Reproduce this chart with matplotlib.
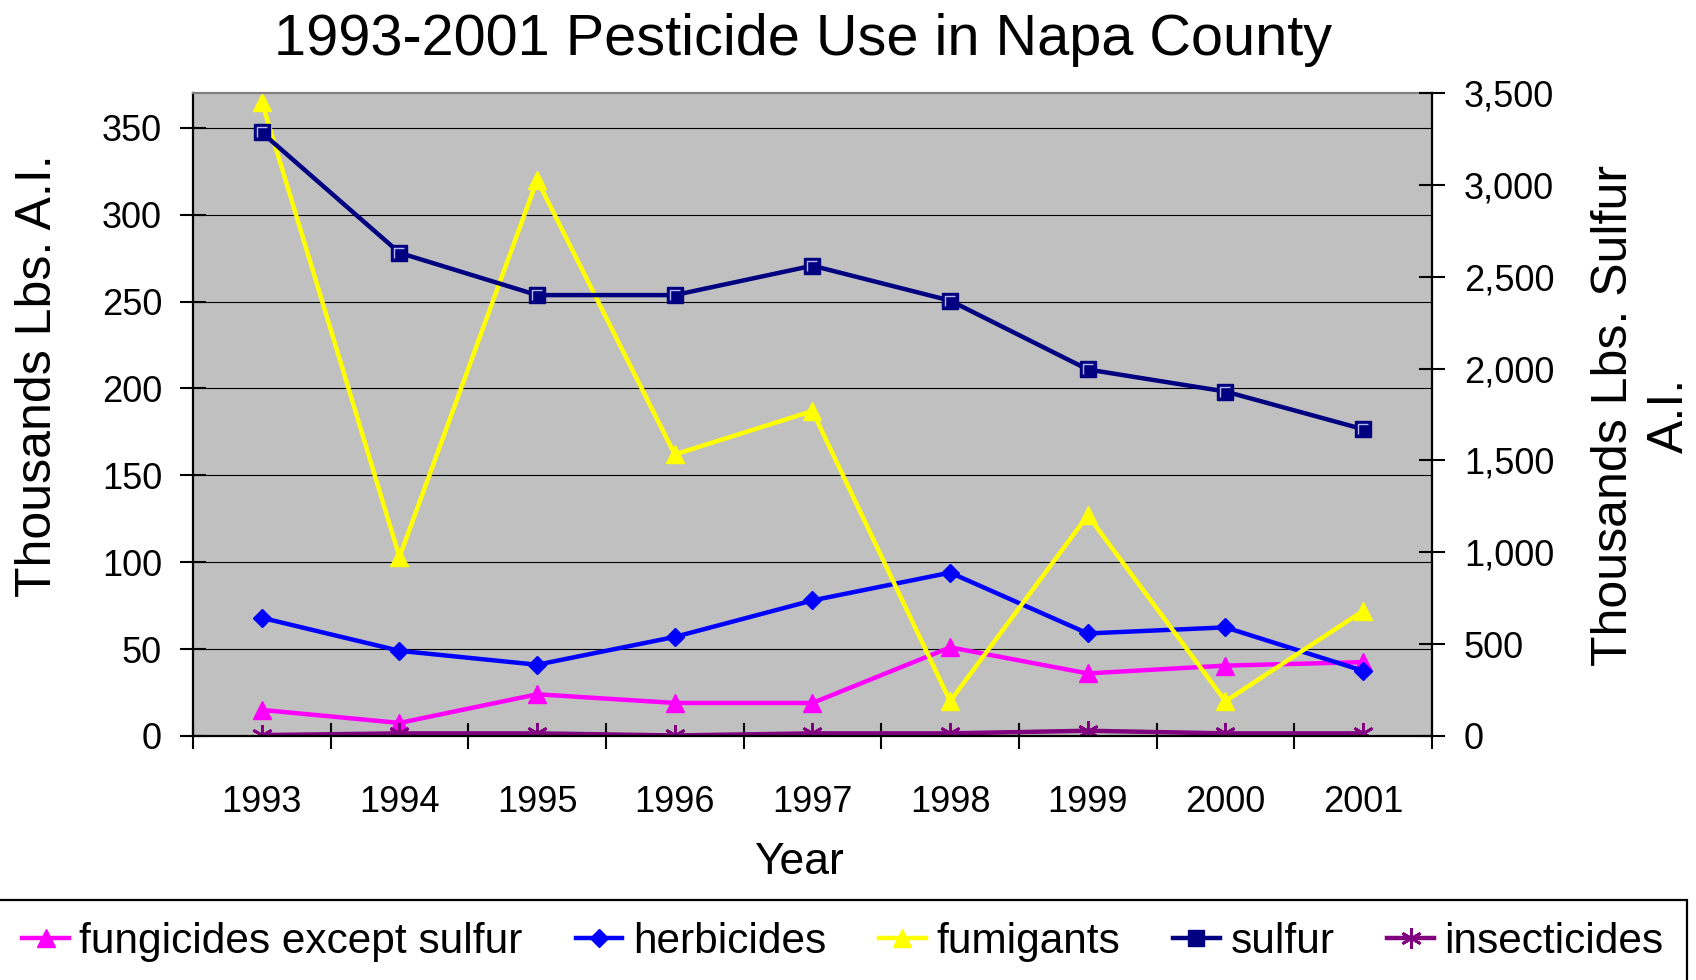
import matplotlib
matplotlib.use('Agg')
import matplotlib.pyplot as plt
import numpy as np
from matplotlib.patches import Rectangle
from matplotlib.path import Path
from matplotlib.ticker import StrMethodFormatter, MultipleLocator

plt.rcParams['font.family'] = ['Liberation Sans', 'DejaVu Sans']

# datos (miles de libras de ingrediente activo)
years = ['1993', '1994', '1995', '1996', '1997', '1998', '1999', '2000', '2001']
fungicides = [15, 7.5, 24, 19, 19, 51, 36, 40.5, 42.5]
herbicides = [68, 49, 41, 57, 78, 94, 59, 62.5, 37.5]
fumigants = [365, 103, 320, 162, 187, 20, 127, 20, 72]
insecticides = [0.5, 1.5, 1.5, 0.3, 1.5, 1.5, 3, 1.5, 1.5]
sulfur = [3285, 2630, 2400, 2400, 2560, 2370, 1995, 1875, 1670]  # eje derecho

x = np.arange(len(years))
lw = 3.2

fig = plt.figure(figsize=(16.96, 9.8), dpi=100)
ax = fig.add_axes([0.1138, 0.2490, 0.7305, 0.6561])
ax.set_facecolor('#C0C0C0')
ax2 = ax.twinx()

l_fun, = ax.plot(x, fungicides, color='#FF00FF', lw=lw, marker='^', ms=13.5,
                 label='fungicides except sulfur')
l_her, = ax.plot(x, herbicides, color='#0000FF', lw=lw, marker='D', ms=9.5,
                 label='herbicides')
l_fum, = ax.plot(x, fumigants, color='#FFFF00', lw=lw, marker='^', ms=13.5,
                 label='fumigants')
l_ins, = ax.plot(x, insecticides, color='#800080', lw=lw, marker=(6, 2, 0), ms=15,
                 mew=2, label='insecticides')
l_sul, = ax2.plot(x, sulfur, color='#000080', lw=lw, marker='s', ms=11.5,
                  label='sulfur')
# brillo claro dentro del cuadrado (estilo excel)
bevel = Path([(-1, -1), (-1, 1), (1, 1)], [Path.MOVETO, Path.LINETO, Path.LINETO])
ax2.plot(x, sulfur, ls='none', marker=bevel, ms=7, mfc='none', mec='#b8b8f0', mew=1)

# eje x: marcas entre categorias, etiquetas centradas
ax.set_xlim(-0.5, len(years) - 0.5)
ax.set_xticks(np.arange(-0.5, len(years), 1))
ax.set_xticklabels([])
ax.set_xticks(x, minor=True)
ax.set_xticklabels(years, minor=True, fontsize=26)
ax.tick_params(axis='x', which='major', direction='inout', length=19.4, width=1.5)
ax.tick_params(axis='x', which='minor', length=0, pad=35)

ax.set_ylim(0, 370)
ax.yaxis.set_major_locator(MultipleLocator(50))
ax.tick_params(axis='y', direction='inout', length=19.4, width=1.5, labelsize=26, pad=12.6)
ax.grid(axis='y', color='black', lw=0.8)
ax.set_axisbelow(True)

ax2.set_ylim(0, 3500)
ax2.yaxis.set_major_locator(MultipleLocator(500))
ax2.yaxis.set_major_formatter(StrMethodFormatter('{x:,.0f}'))
ax2.tick_params(axis='y', direction='inout', length=19.4, width=1.5, labelsize=26, pad=13.3)

for s in ['left', 'bottom']:
    ax.spines[s].set_linewidth(1.6)
ax.spines['top'].set_color('#808080')
ax.spines['top'].set_linewidth(1.6)
ax.spines['right'].set_visible(False)
for s in ['left', 'top', 'bottom']:
    ax2.spines[s].set_visible(False)
ax2.spines['right'].set_linewidth(1.6)

fig.text(0.4735, 1 - 55 / 980, '1993-2001 Pesticide Use in Napa County', fontsize=41.5,
         ha='center', va='baseline')
fig.text(0.4711, 1 - 874 / 980, 'Year', fontsize=32, ha='center', va='baseline')
fig.text(0.0225, 1 - 376 / 980, 'Thousands Lbs. A.I.', fontsize=36, rotation=90,
         ha='center', va='center')
fig.text(1642 / 1696, 1 - 415 / 980, 'Thousands Lbs. Sulfur\nA.I.', fontsize=36,
         rotation=90, ha='center', va='center', multialignment='center', linespacing=1.3)

handles = [l_fun, l_her, l_fum, l_sul, l_ins]
fig.legend(handles, [h.get_label() for h in handles], loc='center', ncol=5,
           bbox_to_anchor=(0.497, 1 - 942 / 980), frameon=False, fontsize=30.5,
           handlelength=1.1, handletextpad=0.25, columnspacing=1.25)
fig.add_artist(Rectangle((-0.01, -0.01), 1687 / 1696 + 0.01, 0.0816 + 0.01,
                         transform=fig.transFigure, fill=False, lw=1.6, ec='black'))

plt.savefig('out.png', dpi=100)
